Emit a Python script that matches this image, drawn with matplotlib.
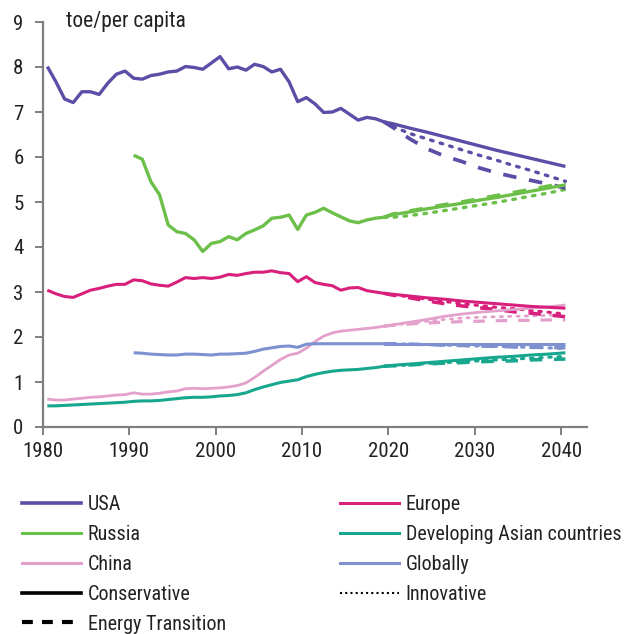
import matplotlib
matplotlib.use("Agg")
import matplotlib.pyplot as plt
from matplotlib.lines import Line2D

plt.rcParams['font.family'] = ['Roboto Condensed', 'Barlow Semi Condensed',
                               'Archivo Narrow', 'PT Sans Narrow', 'DejaVu Sans']

# ---- data (toe per capita) ----
hist_years = list(range(1980, 2020))
hist_years_90 = list(range(1990, 2020))
proj_years = [2019, 2020, 2022, 2024, 2026, 2028, 2030, 2032, 2034, 2036, 2038, 2040]

usa_hist = [8.01, 7.67, 7.29, 7.21, 7.45, 7.45, 7.39, 7.64, 7.84, 7.91,
            7.75, 7.73, 7.81, 7.84, 7.89, 7.91, 8.01, 7.99, 7.95, 8.09,
            8.23, 7.96, 8.00, 7.93, 8.06, 8.01, 7.89, 7.95, 7.67, 7.23,
            7.32, 7.18, 6.99, 7.00, 7.08, 6.95, 6.82, 6.88, 6.85, 6.78]
europe_hist = [3.04, 2.96, 2.90, 2.88, 2.96, 3.04, 3.08, 3.13, 3.17, 3.17,
               3.27, 3.25, 3.18, 3.15, 3.13, 3.22, 3.32, 3.30, 3.32, 3.30,
               3.33, 3.39, 3.37, 3.41, 3.44, 3.44, 3.47, 3.43, 3.41, 3.23,
               3.34, 3.21, 3.17, 3.14, 3.04, 3.09, 3.10, 3.03, 3.00, 2.97]
china_hist = [0.62, 0.60, 0.60, 0.62, 0.64, 0.66, 0.67, 0.69, 0.71, 0.72,
              0.76, 0.73, 0.73, 0.75, 0.78, 0.80, 0.85, 0.86, 0.85, 0.86,
              0.87, 0.89, 0.92, 0.98, 1.10, 1.24, 1.37, 1.50, 1.60, 1.64,
              1.75, 1.90, 2.02, 2.09, 2.13, 2.15, 2.17, 2.19, 2.21, 2.24]
asia_hist = [0.47, 0.47, 0.48, 0.49, 0.50, 0.51, 0.52, 0.53, 0.54, 0.55,
             0.57, 0.58, 0.58, 0.59, 0.61, 0.63, 0.65, 0.66, 0.66, 0.67,
             0.69, 0.70, 0.72, 0.76, 0.83, 0.89, 0.94, 0.99, 1.02, 1.05,
             1.12, 1.17, 1.21, 1.24, 1.26, 1.27, 1.28, 1.30, 1.32, 1.35]
russia_hist = [6.04, 5.95, 5.45, 5.16, 4.49, 4.34, 4.30, 4.16, 3.90, 4.08,
               4.12, 4.23, 4.16, 4.30, 4.38, 4.47, 4.64, 4.66, 4.71, 4.39,
               4.71, 4.77, 4.86, 4.76, 4.67, 4.58, 4.54, 4.60, 4.64, 4.66]
global_hist = [1.65, 1.64, 1.62, 1.61, 1.60, 1.60, 1.62, 1.62, 1.61, 1.60,
               1.62, 1.62, 1.63, 1.64, 1.68, 1.73, 1.76, 1.79, 1.80, 1.77,
               1.84, 1.85, 1.85, 1.85, 1.85, 1.85, 1.85, 1.85, 1.85, 1.85]

# scenario projections: conservative / innovative / energy transition
usa_cons = [6.78, 6.74, 6.64, 6.55, 6.45, 6.35, 6.25, 6.15, 6.06, 5.97, 5.88, 5.79]
usa_inno = [6.78, 6.68, 6.52, 6.40, 6.28, 6.16, 6.04, 5.93, 5.81, 5.70, 5.58, 5.46]
usa_et = [6.78, 6.66, 6.40, 6.18, 6.02, 5.90, 5.76, 5.65, 5.56, 5.48, 5.40, 5.31]

russia_cons = [4.66, 4.72, 4.78, 4.85, 4.91, 4.97, 5.04, 5.10, 5.17, 5.24, 5.31, 5.38]
russia_inno = [4.66, 4.66, 4.70, 4.75, 4.81, 4.87, 4.93, 4.99, 5.06, 5.13, 5.20, 5.28]
russia_et = [4.66, 4.73, 4.80, 4.87, 4.94, 5.00, 5.07, 5.14, 5.21, 5.28, 5.35, 5.42]

europe_cons = [2.97, 2.95, 2.91, 2.87, 2.84, 2.80, 2.77, 2.74, 2.71, 2.68, 2.66, 2.64]
europe_inno = [2.97, 2.94, 2.89, 2.84, 2.79, 2.74, 2.70, 2.66, 2.63, 2.59, 2.55, 2.51]
europe_et = [2.97, 2.93, 2.87, 2.80, 2.74, 2.69, 2.65, 2.61, 2.56, 2.53, 2.49, 2.45]

china_cons = [2.24, 2.27, 2.33, 2.39, 2.46, 2.51, 2.55, 2.58, 2.61, 2.64, 2.67, 2.71]
china_inno = [2.24, 2.26, 2.31, 2.35, 2.39, 2.42, 2.44, 2.45, 2.46, 2.47, 2.48, 2.49]
china_et = [2.24, 2.26, 2.29, 2.31, 2.33, 2.34, 2.35, 2.36, 2.37, 2.37, 2.38, 2.38]

asia_cons = [1.35, 1.37, 1.40, 1.43, 1.46, 1.49, 1.52, 1.55, 1.57, 1.60, 1.62, 1.65]
asia_inno = [1.35, 1.36, 1.38, 1.41, 1.43, 1.45, 1.47, 1.49, 1.51, 1.53, 1.55, 1.57]
asia_et = [1.35, 1.36, 1.38, 1.40, 1.42, 1.43, 1.45, 1.46, 1.47, 1.49, 1.50, 1.51]

global_cons = [1.85, 1.85, 1.85, 1.85, 1.85, 1.85, 1.85, 1.85, 1.85, 1.85, 1.85, 1.85]
global_inno = [1.85, 1.85, 1.84, 1.83, 1.82, 1.81, 1.80, 1.79, 1.78, 1.77, 1.76, 1.74]
global_et = [1.85, 1.85, 1.84, 1.83, 1.82, 1.81, 1.80, 1.79, 1.78, 1.77, 1.77, 1.76]

x_ticks = [1980, 1990, 2000, 2010, 2020, 2030, 2040]
y_ticks = [0, 1, 2, 3, 4, 5, 6, 7, 8, 9]

# ---- styling ----
C_USA = '#5b4ea7'
C_RUS = '#6cc04a'
C_EUR = '#d81f7b'
C_ASIA = '#17a78e'
C_CHN = '#e3a0cb'
C_GLB = '#7d90d0'
AXIS = '#7f7f7f'
TEXT = '#222222'
FS = 14.5

DOT = (0, (0.8, 2.2))
DASH = (0, (3.6, 3.4))
OFF = 0.5  # annual values sit in the middle of each year slot


def shift(years):
    return [y + OFF for y in years]


fig = plt.figure(figsize=(6.28, 6.34), dpi=100)
ax = fig.add_axes([43 / 628, 1 - 427 / 634, (587 - 43) / 628, (427 - 22) / 634])

series = [
    (C_CHN, 2.0, hist_years, china_hist, china_cons, china_inno, china_et),
    (C_ASIA, 2.2, hist_years, asia_hist, asia_cons, asia_inno, asia_et),
    (C_GLB, 2.2, hist_years_90, global_hist, global_cons, global_inno, global_et),
    (C_EUR, 2.2, hist_years, europe_hist, europe_cons, europe_inno, europe_et),
    (C_RUS, 2.4, hist_years_90, russia_hist, russia_cons, russia_inno, russia_et),
    (C_USA, 2.4, hist_years, usa_hist, usa_cons, usa_inno, usa_et),
]

for color, lw, yrs, hist, cons, inno, et in series:
    px = shift(proj_years)
    ax.plot(px, et, color=color, lw=lw + 0.3, linestyle=DASH,
            dash_capstyle='butt', zorder=2)
    ax.plot(px, inno, color=color, lw=lw, linestyle=DOT,
            dash_capstyle='round', zorder=2)
    ax.plot(px, cons, color=color, lw=lw, solid_capstyle='butt', zorder=3)
    ax.plot(shift(yrs), hist, color=color, lw=lw, solid_joinstyle='round',
            solid_capstyle='butt', zorder=3)

ax.set_xlim(1980, 2043)
ax.set_ylim(0, 9)
ax.set_xticks(x_ticks)
ax.set_yticks(y_ticks)
ax.set_xticklabels([str(t) for t in x_ticks])
ax.set_yticklabels([str(t) for t in y_ticks])

for side in ('top', 'right'):
    ax.spines[side].set_visible(False)
for side in ('left', 'bottom'):
    ax.spines[side].set_color(AXIS)
    ax.spines[side].set_linewidth(1.6)
ax.tick_params(axis='both', colors=AXIS, width=1.4, length=6,
               labelsize=FS + 0.5, labelcolor=TEXT)
ax.tick_params(axis='y', pad=8)
ax.tick_params(axis='x', pad=5)

ax.text((66 - 43) / (587 - 43), 1.0, 'toe/per capita',
        transform=ax.transAxes, ha='left', va='center', fontsize=15.5,
        color=TEXT)

# ---- legend ----
def handle(color, ls='-', lw=2.2):
    return Line2D([], [], color=color, lw=lw, linestyle=ls,
                  dash_capstyle='butt')

left_items = [
    (handle(C_USA, lw=2.6), 'USA'),
    (handle(C_RUS), 'Russia'),
    (handle(C_CHN), 'China'),
    (handle('black', lw=2.6), 'Conservative'),
    (handle('black', ls=(0, (2.6, 2.2)), lw=3.0), 'Energy Transition'),
]
right_items = [
    (handle(C_EUR), 'Europe'),
    (handle(C_ASIA), 'Developing Asian countries'),
    (handle(C_GLB), 'Globally'),
    (handle('black', ls=(0, (1, 1.5)), lw=1.5), 'Innovative'),
]

legend_kw = dict(loc='upper left', frameon=False, fontsize=FS,
                 handlelength=2.95, handletextpad=0.32, labelspacing=0.54,
                 borderpad=0, borderaxespad=0)
leg1 = fig.legend([h for h, _ in left_items], [t for _, t in left_items],
                  bbox_to_anchor=(22 / 628, 1 - 495 / 634), **legend_kw)
leg2 = fig.legend([h for h, _ in right_items], [t for _, t in right_items],
                  bbox_to_anchor=(340 / 628, 1 - 495 / 634), **legend_kw)
for leg in (leg1, leg2):
    for t in leg.get_texts():
        t.set_color(TEXT)

fig.savefig('out.png', dpi=100)
